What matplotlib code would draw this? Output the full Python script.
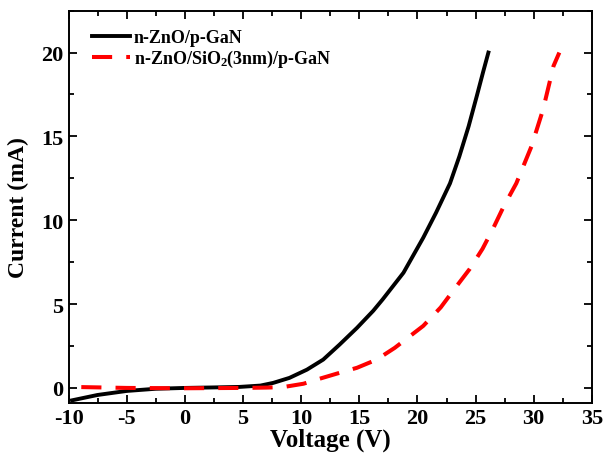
import numpy as np
import matplotlib
matplotlib.use('Agg')
from matplotlib import pyplot as plt
from matplotlib.ticker import MultipleLocator

v_zno = [-9.7, -7.5, -5, -2.5, 0, 2.5, 4.7, 6.5, 7.6, 9.0, 10.5, 11.9, 13.3,
         14.8, 16.2, 17.0, 18.8, 20.5, 21.6, 22.8, 23.6, 24.4, 25.1, 25.65, 26.1]
i_zno = [-0.74, -0.42, -0.18, -0.05, 0, 0.03, 0.06, 0.14, 0.3, 0.6, 1.09, 1.69,
         2.58, 3.58, 4.6, 5.27, 6.87, 8.96, 10.45, 12.2, 13.8, 15.6, 17.4,
         18.85, 20]

v_sio2 = [-8.9, -5, 0, 5, 7.0, 8.45, 10.2, 11.6, 13.3, 14.8, 16.5, 18.05, 20.5,
          22.0, 23.4, 24.5, 25.6, 26.5, 27.4, 28.5, 29.8, 30.8, 31.7, 32.2]
i_sio2 = [0.05, 0.0, -0.02, 0.0, 0.02, 0.05, 0.25, 0.55, 0.9, 1.2, 1.69, 2.39,
          3.7, 4.8, 6.1, 7.1, 8.3, 9.5, 10.8, 12.2, 14.4, 16.6, 19.2, 20]

label_zno = 'n-ZnO/p-GaN'
label_sio2 = r'n-ZnO/SiO$_2$(3nm)/p-GaN'

plt.rcParams['font.family'] = 'Liberation Serif'
plt.rcParams['font.weight'] = 'bold'
plt.rcParams['axes.labelweight'] = 'bold'
plt.rcParams['axes.unicode_minus'] = False
plt.rcParams['mathtext.fontset'] = 'custom'
plt.rcParams['mathtext.rm'] = 'Liberation Serif:bold'
plt.rcParams['mathtext.default'] = 'rm'

fig = plt.figure(figsize=(6.03, 4.6), dpi=100)
ax = fig.add_axes([0.1136, 0.1217, 0.868, 0.853])

ax.plot(v_zno, i_zno, color='black', lw=2.8, label=label_zno)
ax.plot(v_sio2, i_sio2, color='red', lw=2.9, dashes=(5, 3.5), label=label_sio2)

ax.set_xlim(-10, 35)
ax.set_ylim(-0.9, 22.5)
ax.xaxis.set_major_locator(MultipleLocator(5))
ax.xaxis.set_minor_locator(MultipleLocator(2.5))
ax.yaxis.set_major_locator(MultipleLocator(5))
ax.yaxis.set_minor_locator(MultipleLocator(2.5))
ax.tick_params(which='both', direction='in', top=True, right=True, width=1.3,
               labelsize=16)
ax.tick_params(which='major', length=6)
ax.tick_params(which='minor', length=3.5)
for s in ax.spines.values():
    s.set_linewidth(1.4)

ax.set_xlabel('Voltage (V)', fontsize=18, labelpad=0)
ax.set_ylabel('Current (mA)', fontsize=17, labelpad=9)

ax.legend(loc='upper left', frameon=False, fontsize=13, handlelength=2.1,
          labelspacing=0.12, borderaxespad=0.3, handletextpad=0.25,
          bbox_to_anchor=(0.02, 0.985))

fig.savefig('out.png', dpi=100)
